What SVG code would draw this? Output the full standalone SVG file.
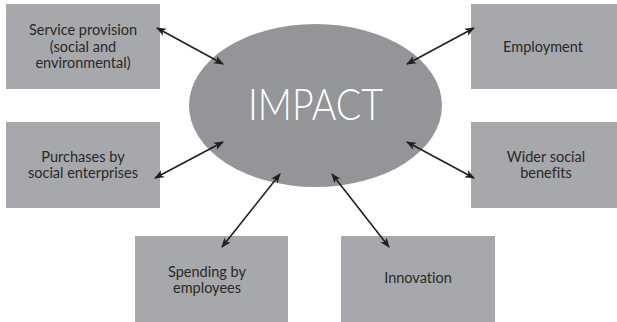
<svg xmlns="http://www.w3.org/2000/svg" width="617" height="322" viewBox="0 0 617 322">
<defs>
<style>
.box{fill:#a7a8ab;}
.lbl{font-family:Lato,"Liberation Sans",sans-serif;font-size:14.5px;fill:#2a2728;text-anchor:middle;font-variant-ligatures:none;}
.conn{stroke:#231f20;stroke-width:1.6;fill:none;marker-start:url(#ah);marker-end:url(#ah);}
</style>
<marker id="ah" viewBox="0 0 10 10" refX="9" refY="5" markerWidth="10" markerHeight="10" markerUnits="userSpaceOnUse" orient="auto-start-reverse">
<path d="M0,1 L10,5 L0,9 L2.5,5 Z" fill="#231f20"/>
</marker>
</defs>
<rect width="617" height="322" fill="#ffffff"/>
<g id="impact">
<ellipse cx="315.5" cy="105.5" rx="126.5" ry="81.5" fill="#939598"/>
<text x="315.5" y="120" font-family="Lato,'Liberation Sans',sans-serif" font-size="44" font-weight="300" fill="#ffffff" text-anchor="middle" textLength="135" lengthAdjust="spacingAndGlyphs">IMPACT</text>
</g>
<g id="service">
<rect class="box" x="6" y="4" width="154" height="85"/>
<text class="lbl" x="83" y="35">Service provision</text>
<text class="lbl" x="83" y="52">(social and</text>
<text class="lbl" x="83" y="68">environmental)</text>
</g>
<g id="employment">
<rect class="box" x="471" y="4" width="146" height="85"/>
<text class="lbl" x="543" y="52">Employment</text>
</g>
<g id="purchases">
<rect class="box" x="6" y="122" width="154" height="86"/>
<text class="lbl" x="83" y="162">Purchases by</text>
<text class="lbl" x="83" y="178">social enterprises</text>
</g>
<g id="wider">
<rect class="box" x="471" y="122" width="146" height="86"/>
<text class="lbl" x="546" y="162">Wider social</text>
<text class="lbl" x="546" y="178">benefits</text>
</g>
<g id="spending">
<rect class="box" x="135" y="236" width="153" height="86"/>
<text class="lbl" x="207" y="277">Spending by</text>
<text class="lbl" x="207" y="293">employees</text>
</g>
<g id="innovation">
<rect class="box" x="341" y="236" width="154" height="86"/>
<text class="lbl" x="418" y="283">Innovation</text>
</g>
<g id="connectors">
<line class="conn" x1="157" y1="28" x2="223" y2="64"/>
<line class="conn" x1="407" y1="64" x2="474" y2="28"/>
<line class="conn" x1="155" y1="178" x2="223" y2="142"/>
<line class="conn" x1="407" y1="142" x2="474" y2="178"/>
<line class="conn" x1="222" y1="247" x2="280" y2="174"/>
<line class="conn" x1="332" y1="174" x2="389" y2="247"/>
</g>
</svg>
